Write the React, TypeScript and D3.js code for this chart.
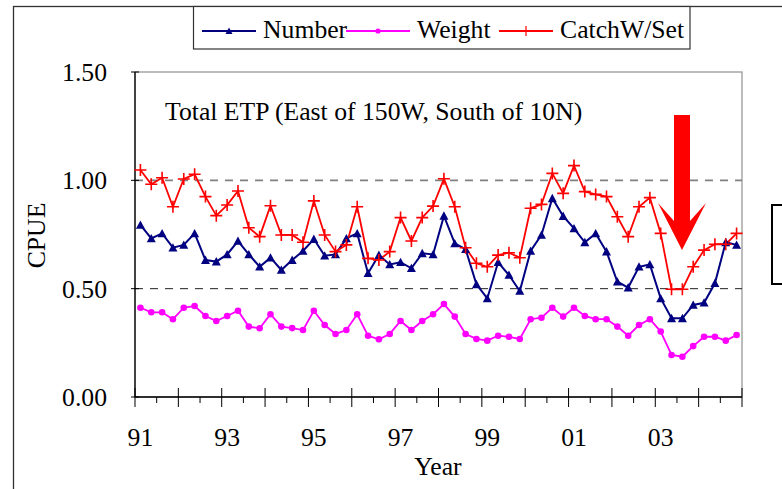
import React from "react";
import * as d3 from "d3";

const years = ["91", "92", "93", "94", "95", "96", "97", "98", "99", "00", "01", "02", "03", "04"];
const xTickLabels = ["91", "93", "95", "97", "99", "01", "03"];
const yTicks = [0, 0.5, 1.0, 1.5];
const gridValues = [0.5, 1.0];

const numberSeries = [
  0.794, 0.732, 0.755, 0.689, 0.702, 0.755, 0.632, 0.625,
  0.658, 0.72, 0.658, 0.601, 0.643, 0.586, 0.632, 0.674,
  0.729, 0.652, 0.658, 0.732, 0.755, 0.571, 0.655, 0.612,
  0.622, 0.594, 0.663, 0.658, 0.836, 0.709, 0.682, 0.52,
  0.455, 0.622, 0.563, 0.489, 0.674, 0.748, 0.917, 0.835,
  0.778, 0.714, 0.755, 0.671, 0.532, 0.505, 0.601, 0.612,
  0.455, 0.363, 0.363, 0.425, 0.435, 0.525, 0.714, 0.702,
];
const weightSeries = [
  0.412, 0.391, 0.391, 0.359, 0.412, 0.42, 0.374, 0.351,
  0.374, 0.398, 0.325, 0.317, 0.382, 0.325, 0.318, 0.309,
  0.398, 0.332, 0.291, 0.309, 0.382, 0.283, 0.266, 0.291,
  0.351, 0.309, 0.351, 0.382, 0.429, 0.371, 0.291, 0.268,
  0.26, 0.283, 0.278, 0.268, 0.359, 0.366, 0.412, 0.371,
  0.412, 0.374, 0.359, 0.359, 0.325, 0.283, 0.332, 0.359,
  0.302, 0.194, 0.186, 0.235, 0.278, 0.278, 0.26, 0.286,
];
const catchSeries = [
  1.048, 0.982, 1.012, 0.878, 1.006, 1.028, 0.925, 0.837,
  0.886, 0.951, 0.781, 0.74, 0.883, 0.748, 0.748, 0.714,
  0.905, 0.748, 0.671, 0.702, 0.878, 0.64, 0.632, 0.671,
  0.828, 0.72, 0.828, 0.881, 1.007, 0.878, 0.689, 0.617,
  0.601, 0.655, 0.666, 0.643, 0.871, 0.889, 1.032, 0.94,
  1.068, 0.948, 0.935, 0.925, 0.832, 0.74, 0.878, 0.92,
  0.755, 0.497, 0.497, 0.601, 0.678, 0.705, 0.705, 0.755,
];

const W = 782;
const H = 489;
const plot = { left: 135, right: 742, top: 72, bottom: 397 };
const FONT = "'Liberation Serif', 'Times New Roman', serif";
const FS = 25.7;
const NAVY = "#000080";
const MAGENTA = "#FF00FF";
const RED = "#FF0000";

const nQ = years.length * 4;
const x = d3.scaleLinear().domain([0, nQ]).range([plot.left, plot.right]);
const y = d3.scaleLinear().domain([0, 1.5]).range([plot.bottom, plot.top]);
const cx = (i: number) => x(i + 0.5);

const lineGen = d3
  .line<number>()
  .x((_, i) => cx(i))
  .y((d) => y(d));

const triPath = (s: number) => `M0,${-s} L${s},${s * 0.85} L${-s},${s * 0.85} Z`;

function Plus({ px, py, r, color, w }: { px: number; py: number; r: number; color: string; w: number }) {
  return (
    <path
      d={`M${px - r},${py} H${px + r} M${px},${py - r} V${py + r}`}
      stroke={color}
      strokeWidth={w}
      fill="none"
    />
  );
}

export default function App() {
  const majorTicks = d3.range(0, nQ + 1, 4);
  const minorTicks = d3.range(2, nQ, 4);

  const arrow = [
    [674, 115], [690, 115], [690, 221], [706, 203], [682, 250], [658, 203], [674, 221],
  ];

  return (
    <svg
      width={W}
      height={H}
      style={{ position: "absolute", left: 0, top: 0, background: "#fff" }}
      fontFamily={FONT}
    >
      <rect x={0} y={0} width={W} height={H} fill="#fff" />
      <rect x={13.5} y={6.5} width={900} height={700} fill="none" stroke="#333" strokeWidth={1.3} />

      <rect
        x={plot.left}
        y={plot.top}
        width={plot.right - plot.left}
        height={plot.bottom - plot.top}
        fill="#fff"
        stroke="#999"
        strokeWidth={1.3}
      />

      {gridValues.map((g) => (
        <line
          key={g}
          x1={plot.left}
          x2={plot.right}
          y1={y(g)}
          y2={y(g)}
          stroke={g === 1 ? "#808080" : "#222"}
          strokeWidth={g === 1 ? 1.6 : 1}
          strokeDasharray="8,7"
        />
      ))}

      <line x1={plot.left} x2={plot.left} y1={plot.top} y2={plot.bottom} stroke="#000" strokeWidth={1.3} />
      <line x1={plot.left} x2={plot.right} y1={plot.bottom} y2={plot.bottom} stroke="#000" strokeWidth={1.3} />
      {majorTicks.map((t) => (
        <line key={"M" + t} x1={x(t)} x2={x(t)} y1={plot.bottom - 9} y2={plot.bottom + 10} stroke="#000" strokeWidth={1} />
      ))}
      {minorTicks.map((t) => (
        <line key={"m" + t} x1={x(t)} x2={x(t)} y1={plot.bottom} y2={plot.bottom + 6} stroke="#000" strokeWidth={1} />
      ))}
      {yTicks.map((t) => (
        <g key={"y" + t}>
          <line x1={plot.left - 4} x2={plot.left + 4} y1={y(t)} y2={y(t)} stroke="#000" strokeWidth={1} />
          <text x={107} y={y(t)} dy="0.35em" textAnchor="end" fontSize={FS} fill="#000">
            {d3.format(".2f")(t)}
          </text>
        </g>
      ))}
      {xTickLabels.map((lab, k) => (
        <text key={lab} x={cx(k * 8)} y={446} textAnchor="middle" fontSize={FS} fill="#000">
          {lab}
        </text>
      ))}
      <text x={438} y={475} textAnchor="middle" fontSize={FS} fill="#000">
        Year
      </text>
      <text
        transform={`translate(45,235.5) rotate(-90)`}
        textAnchor="middle"
        fontSize={FS}
        fill="#000"
      >
        CPUE
      </text>

      <text x={165} y={120} fontSize={FS} fill="#000">
        Total ETP (East of 150W, South of 10N)
      </text>

      <path d={lineGen(weightSeries) || ""} fill="none" stroke={MAGENTA} strokeWidth={1.8} />
      <path d={lineGen(numberSeries) || ""} fill="none" stroke={NAVY} strokeWidth={2} />
      <path d={lineGen(catchSeries) || ""} fill="none" stroke={RED} strokeWidth={1.8} />

      {weightSeries.map((v, i) => (
        <circle key={"w" + i} cx={cx(i)} cy={y(v)} r={3.3} fill={MAGENTA} />
      ))}
      {numberSeries.map((v, i) => (
        <path key={"n" + i} transform={`translate(${cx(i)},${y(v)})`} d={triPath(4.5)} fill={NAVY} />
      ))}
      {catchSeries.map((v, i) => (
        <Plus key={"c" + i} px={cx(i)} py={y(v)} r={6} color={RED} w={1.6} />
      ))}

      <polygon points={arrow.map((p) => p.join(",")).join(" ")} fill={RED} />

      <rect x={772} y={205} width={40} height={79} fill="#fff" stroke="#000" strokeWidth={2} />

      <rect x={193.5} y={6.5} width={496.5} height={42.5} fill="#fff" stroke="#333" strokeWidth={1.2} />
      <line x1={202} x2={256} y1={31} y2={31} stroke={NAVY} strokeWidth={2} />
      <path transform="translate(229,31)" d={triPath(3.5)} fill={NAVY} />
      <text x={263} y={38} fontSize={FS} fill="#000">Number</text>
      <line x1={346} x2={410} y1={31} y2={31} stroke={MAGENTA} strokeWidth={2} />
      <circle cx={378} cy={31} r={2.6} fill={MAGENTA} />
      <text x={417} y={38} fontSize={FS} fill="#000">Weight</text>
      <line x1={499} x2={553} y1={31} y2={31} stroke={RED} strokeWidth={2} />
      <Plus px={526} py={31} r={5} color={RED} w={1.2} />
      <text x={560} y={38} fontSize={FS} fill="#000">CatchW/Set</text>
    </svg>
  );
}
